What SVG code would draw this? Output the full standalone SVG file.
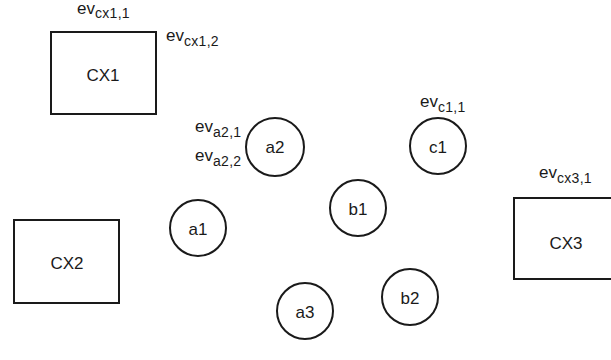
<svg xmlns="http://www.w3.org/2000/svg" width="611" height="360" viewBox="0 0 611 360">
<style>
.box{fill:none;stroke:#1a1a1a;stroke-width:2}
.t{font-family:"Liberation Sans",Arial,sans-serif;font-size:17px;fill:#1a1a1a;text-anchor:middle;dominant-baseline:central}
.ev{font-family:"Liberation Sans",Arial,sans-serif;font-size:17px;fill:#1a1a1a}
.sub{font-size:14px;letter-spacing:0.3px}
</style>
<rect width="611" height="360" fill="#fff"/>
<g id="CX1"><rect class="box" x="51" y="32" width="105" height="82"/><text class="t" x="103" y="75">CX1</text></g>
<g id="CX2"><rect class="box" x="14" y="220" width="105" height="83"/><text class="t" x="67" y="263">CX2</text></g>
<g id="CX3"><rect class="box" x="514" y="198" width="105" height="81"/><text class="t" x="566" y="243">CX3</text></g>
<g id="a1"><circle class="box" cx="198" cy="228" r="28"/><text class="t" x="198" y="229">a1</text></g>
<g id="a2"><circle class="box" cx="275" cy="147" r="29"/><text class="t" x="275" y="147">a2</text></g>
<g id="a3"><circle class="box" cx="305" cy="311" r="28"/><text class="t" x="305" y="312">a3</text></g>
<g id="b1"><circle class="box" cx="358" cy="208" r="28"/><text class="t" x="358" y="209">b1</text></g>
<g id="b2"><circle class="box" cx="410" cy="297" r="28"/><text class="t" x="410" y="298">b2</text></g>
<g id="c1"><circle class="box" cx="438" cy="146" r="28"/><text class="t" x="438" y="147">c1</text></g>
<g id="labels">
<text class="ev" x="77" y="14">ev<tspan class="sub" dy="4">cx1,1</tspan></text>
<text class="ev" x="166" y="41">ev<tspan class="sub" dy="5">cx1,2</tspan></text>
<text class="ev" x="195" y="132">ev<tspan class="sub" dy="5">a2,1</tspan></text>
<text class="ev" x="195" y="161">ev<tspan class="sub" dy="5">a2,2</tspan></text>
<text class="ev" x="420" y="107">ev<tspan class="sub" dy="5">c1,1</tspan></text>
<text class="ev" x="539" y="178">ev<tspan class="sub" dy="5">cx3,1</tspan></text>
</g>
<g id="connectors"></g>
</svg>
